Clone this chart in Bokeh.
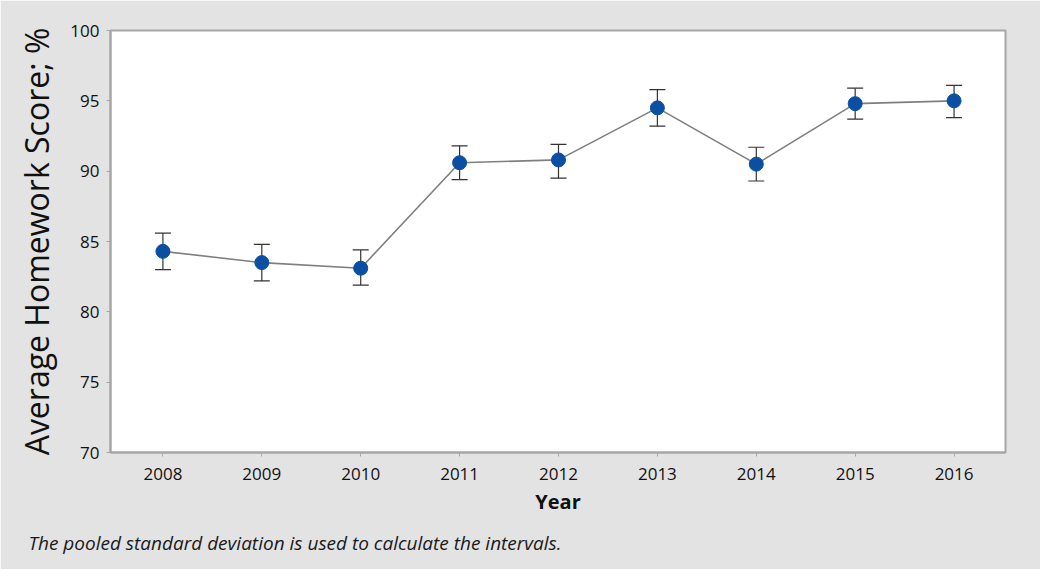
from bokeh.plotting import figure
from bokeh.models import Range1d, FixedTicker, Whisker, TeeHead, ColumnDataSource, Title
from bokeh.embed import file_html
from bokeh.resources import INLINE

years = [2008, 2009, 2010, 2011, 2012, 2013, 2014, 2015, 2016]
means = [84.3, 83.5, 83.1, 90.6, 90.8, 94.5, 90.5, 94.8, 95.0]
lower = [83.0, 82.2, 81.9, 89.4, 89.5, 93.2, 89.3, 93.7, 93.8]
upper = [85.6, 84.8, 84.4, 91.8, 91.9, 95.8, 91.7, 95.9, 96.1]
y_ticks = [70, 75, 80, 85, 90, 95, 100]

FONT = "Open Sans"
BG = "#e3e3e3"
AX = "#a6a6a6"

src = ColumnDataSource(dict(year=years, mean=means, lower=lower, upper=upper))

p = figure(width=1040, height=569, output_backend="svg", toolbar_location=None,
           x_range=Range1d(2007.47, 2016.52), y_range=Range1d(70, 100),
           min_border_left=110, min_border_top=30, min_border_right=35, min_border_bottom=117)
p.background_fill_color = "white"
p.border_fill_color = BG
p.outline_line_color = AX
p.outline_line_width = 2
p.grid.visible = False

p.xaxis.ticker = FixedTicker(ticks=years)
p.yaxis.ticker = FixedTicker(ticks=y_ticks)
p.xaxis.minor_tick_line_color = None
p.yaxis.minor_tick_line_color = None
for ax in (p.xaxis, p.yaxis):
    ax.axis_line_color = AX
    ax.axis_line_width = 2
    ax.major_tick_line_color = AX
    ax.major_tick_in = 0
    ax.major_tick_out = 4
    ax.major_label_text_font = FONT
    ax.major_label_text_font_size = "17px"
    ax.major_label_text_color = "#111111"
    ax.axis_label_text_font = FONT
    ax.axis_label_text_color = "#111111"

p.xaxis.major_label_standoff = 11
p.yaxis.major_label_standoff = 7
p.xaxis.axis_label = "Year"
p.xaxis.axis_label_text_font_size = "20px"
p.xaxis.axis_label_text_font_style = "bold"
p.xaxis.axis_label_standoff = 5
p.yaxis.axis_label = "Average Homework Score; %"
p.yaxis.axis_label_text_font_size = "32px"
p.yaxis.axis_label_text_font_style = "normal"
p.yaxis.axis_label_standoff = 9

wh = Whisker(base="year", upper="upper", lower="lower", source=src,
             line_color="#333333", line_width=1.2,
             upper_head=TeeHead(size=16, line_color="#333333", line_width=1.2),
             lower_head=TeeHead(size=16, line_color="#333333", line_width=1.2),
             level="underlay")
p.add_layout(wh)

p.line("year", "mean", source=src, line_color="#7f7f7f", line_width=1.6)
p.scatter("year", "mean", source=src, size=14, fill_color="#0b4fa3",
          line_color="#0b4fa3")

note = Title(text="The pooled standard deviation is used to calculate the intervals.",
             align="left", offset=-82, standoff=20,
             text_font=FONT, text_font_size="19px", text_font_style="italic",
             text_color="#1a1a1a")
p.add_layout(note, "below")

open("out.html", "w").write(file_html(p, INLINE))
